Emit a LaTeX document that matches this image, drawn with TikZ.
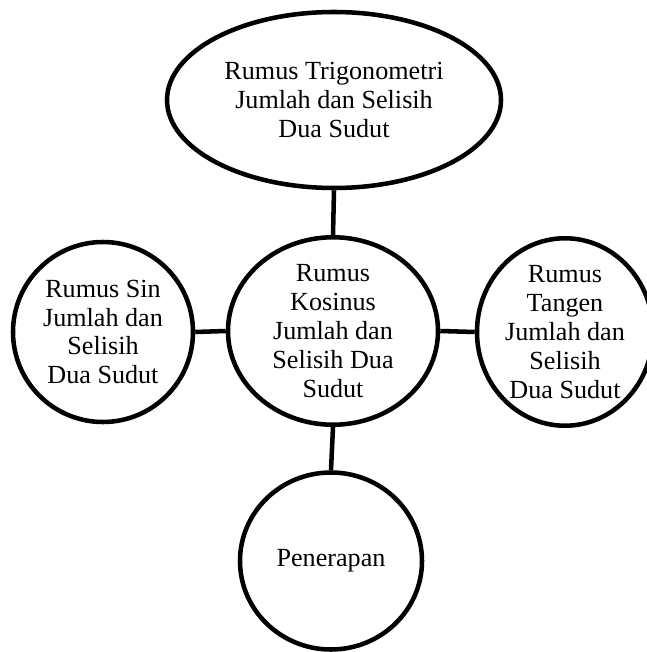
\documentclass[tikz,border=0pt]{standalone}
\usepackage{fontspec}
\setmainfont{Liberation Serif}
\usetikzlibrary{shapes.geometric}

\tikzset{every picture/.style={line width=0.75pt}}
\tikzset{bubble/.style={draw, ellipse, line width=3.4pt, inner sep=0pt, align=center, font=\fontsize{19.6}{21.6}\selectfont}}
\tikzset{link/.style={line width=3.4pt}}

\begin{document}
\begin{tikzpicture}[x=0.75pt,y=0.75pt,yscale=-1,xscale=1]
\useasboundingbox (0,0) rectangle (646,652);

%Shape: Ellipse [id:top]
\node (trig) [bubble, minimum width=250.5pt, minimum height=132pt] at (334,100) {Rumus Trigonometri\\Jumlah dan Selisih\\Dua Sudut};
%Shape: Ellipse [id:center]
\node (kos) [bubble, minimum width=157.5pt, minimum height=135pt] at (333,331) {Rumus\\Kosinus\\Jumlah dan\\Selisih Dua\\Sudut};
%Shape: Ellipse [id:left]
\node (sin) [bubble, minimum width=135pt, minimum height=135pt] at (103,332) {Rumus Sin\\Jumlah dan\\Selisih\\Dua Sudut};
%Shape: Ellipse [id:right]
\node (tan) [bubble, minimum width=132pt, minimum height=135pt] at (565,332) {Rumus\\Tangen\\Jumlah dan\\Selisih\\Dua Sudut};
%Shape: Ellipse [id:bottom]
\node (terap) [bubble, minimum width=136.5pt, minimum height=132.75pt] at (331,561) {Penerapan};

%Straight Lines
\draw [link] (trig.south) -- (kos.north) ;
%Straight Lines
\draw [link] (sin.east) -- (kos.west) ;
%Straight Lines
\draw [link] (kos.east) -- (tan.west) ;
%Straight Lines
\draw [link] (kos.south) -- (terap.north) ;

\end{tikzpicture}
\end{document}
